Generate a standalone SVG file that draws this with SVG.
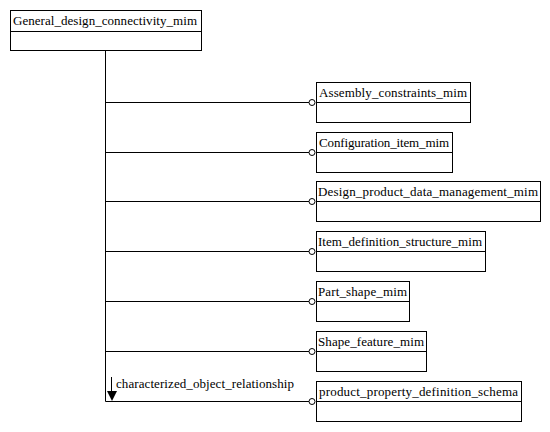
<svg xmlns="http://www.w3.org/2000/svg" width="550" height="432" viewBox="0 0 550 432">
<style>
.box{fill:#fff;stroke:#000;stroke-width:1}
.ln{fill:none;stroke:#000;stroke-width:1}
.t{font-family:'Liberation Serif','Times New Roman','DejaVu Serif',serif;font-size:13px;fill:#000}
.c{fill:#fff;stroke:#000;stroke-width:1}
</style>
<rect width="550" height="432" fill="#fff"/>
<g id="connectors">
<path class="ln" d="M105.5 51V401.5"/>
<path class="ln" d="M105.5 102.5H309"/><circle class="c" cx="312" cy="102.5" r="3"/>
<path class="ln" d="M105.5 152.5H309"/><circle class="c" cx="312" cy="152.5" r="3"/>
<path class="ln" d="M105.5 201.5H309"/><circle class="c" cx="312" cy="201.5" r="3"/>
<path class="ln" d="M105.5 251.5H309"/><circle class="c" cx="312" cy="251.5" r="3"/>
<path class="ln" d="M105.5 301.5H309"/><circle class="c" cx="312" cy="301.5" r="3"/>
<path class="ln" d="M105.5 351.5H309"/><circle class="c" cx="312" cy="351.5" r="3"/>
<path class="ln" d="M105.5 401.5H309"/><circle class="c" cx="312" cy="401.5" r="3"/>
<path class="ln" d="M111.5 377V392"/>
<polygon points="107,391 117,391 112,401" fill="#000"/>
<text class="t" x="116" y="388" textLength="178" lengthAdjust="spacing">characterized_object_relationship</text>
</g>
<g id="General_design_connectivity_mim">
<rect class="box" x="10.5" y="10.5" width="191" height="40"/>
<path class="ln" d="M10.5 31.5H201.5"/>
<text class="t" x="13" y="25" textLength="184" lengthAdjust="spacing">General_design_connectivity_mim</text>
</g>
<g id="Assembly_constraints_mim">
<rect class="box" x="316.5" y="82.5" width="154" height="40"/>
<path class="ln" d="M316.5 102.5H470.5"/>
<text class="t" x="319" y="97" textLength="148" lengthAdjust="spacing">Assembly_constraints_mim</text>
</g>
<g id="Configuration_item_mim">
<rect class="box" x="316.5" y="132.5" width="136" height="40"/>
<path class="ln" d="M316.5 152.5H452.5"/>
<text class="t" x="319" y="147" textLength="130" lengthAdjust="spacing">Configuration_item_mim</text>
</g>
<g id="Design_product_data_management_mim">
<rect class="box" x="316.5" y="181.5" width="224" height="40"/>
<path class="ln" d="M316.5 201.5H540.5"/>
<text class="t" x="318" y="196" textLength="220" lengthAdjust="spacing">Design_product_data_management_mim</text>
</g>
<g id="Item_definition_structure_mim">
<rect class="box" x="316.5" y="231.5" width="169" height="40"/>
<path class="ln" d="M316.5 251.5H485.5"/>
<text class="t" x="318" y="246" textLength="164" lengthAdjust="spacing">Item_definition_structure_mim</text>
</g>
<g id="Part_shape_mim">
<rect class="box" x="316.5" y="281.5" width="93" height="40"/>
<path class="ln" d="M316.5 301.5H409.5"/>
<text class="t" x="318" y="296" textLength="89" lengthAdjust="spacing">Part_shape_mim</text>
</g>
<g id="Shape_feature_mim">
<rect class="box" x="316.5" y="331.5" width="110" height="40"/>
<path class="ln" d="M316.5 351.5H426.5"/>
<text class="t" x="318" y="346" textLength="106" lengthAdjust="spacing">Shape_feature_mim</text>
</g>
<g id="product_property_definition_schema">
<rect class="box" x="316.5" y="381.5" width="205" height="40"/>
<path class="ln" d="M316.5 401.5H521.5"/>
<text class="t" x="319" y="396" textLength="199" lengthAdjust="spacing">product_property_definition_schema</text>
</g>
</svg>
